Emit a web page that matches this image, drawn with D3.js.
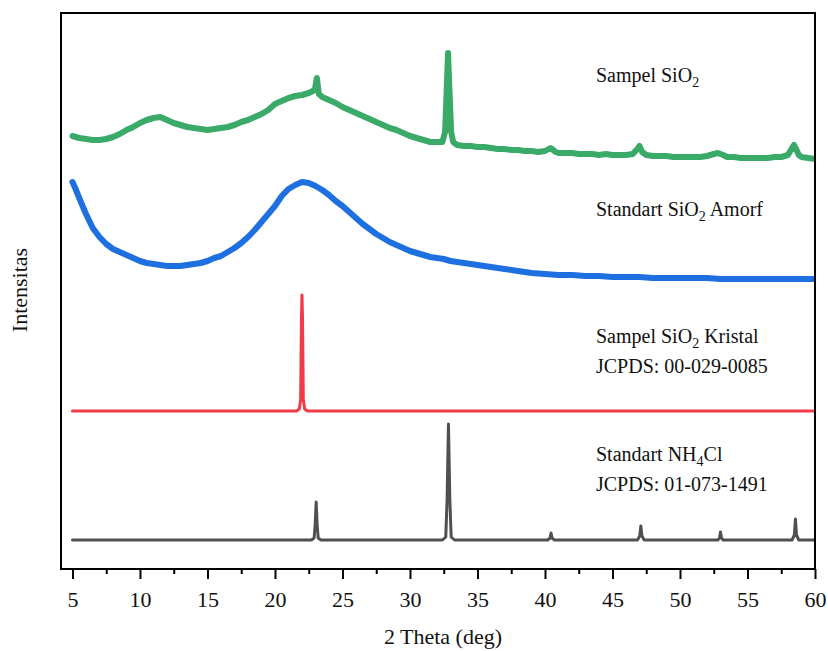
<!DOCTYPE html>
<html>
<head>
<meta charset="utf-8">
<script src="https://cdn.jsdelivr.net/npm/d3@7"></script>
<style>
  body { margin: 0; background: #fff; }
  #chart text { font-family: "Liberation Serif", "Times New Roman", serif; fill: #111; }
</style>
</head>
<body>
<div id="chart"></div>
<script>
// XRD pattern chart - stacked diffractograms
(function () {
  ///////////////////////////////////////////////////////////// ! Data
  // 2 theta (deg) and intensity (a.u., already offset for stacking)
  const sampelTheta = [5, 5.5, 6, 6.5, 7, 7.5, 8, 8.5, 9, 9.5, 10, 10.5, 11, 11.5, 12, 12.5, 13, 13.5, 14, 14.5, 15, 15.5, 16, 16.5, 17, 17.5, 18, 18.5, 19, 19.5, 20, 20.5, 21, 21.5, 22, 22.5, 22.95, 23.1, 23.25, 23.5, 24, 24.5, 25, 25.5, 26, 26.5, 27, 27.5, 28, 28.5, 29, 29.5, 30, 30.5, 31, 31.5, 32, 32.4, 32.6, 32.72, 32.82, 32.92, 33.05, 33.2, 33.5, 34, 34.5, 35, 35.5, 36, 36.5, 37, 37.5, 38, 38.5, 39, 39.5, 40, 40.4, 40.8, 41, 41.5, 42, 42.5, 43, 43.5, 44, 44.5, 45, 45.5, 46, 46.5, 46.9, 47, 47.2, 47.5, 48, 48.5, 49, 49.5, 50, 50.5, 51, 51.5, 52, 52.5, 52.8, 53.2, 53.5, 54, 54.5, 55, 55.5, 56, 56.5, 57, 57.5, 58, 58.3, 58.45, 58.6, 58.8, 59, 59.5, 60];
  const sampelInt = [433, 431, 430, 429, 429, 430, 432, 435, 439, 442, 446, 449, 451, 452, 449, 446, 444, 442, 441, 440, 439, 440, 441, 442, 444, 447, 449, 452, 455, 459, 465, 468, 471, 473, 474, 476, 479, 491, 475, 472, 469, 466, 462, 459, 456, 453, 450, 447, 444, 441, 439, 436, 433, 431, 429, 427, 427, 427, 437, 480, 516, 480, 437, 427, 424, 423, 423, 422, 422, 421, 420, 420, 419, 419, 418, 418, 417, 418, 421, 417, 416, 416, 416, 415, 415, 415, 414, 415, 414, 414, 414, 415, 421, 423, 417, 414, 413, 413, 413, 412, 412, 412, 412, 412, 413, 415, 416, 414, 412, 412, 411, 411, 411, 411, 411, 412, 412, 414, 421, 424, 420, 414, 412, 411, 410];

  const amorfTheta = [5, 5.2, 5.5, 6, 6.5, 7, 7.5, 8, 8.5, 9, 9.5, 10, 10.5, 11, 11.5, 12, 12.5, 13, 13.5, 14, 14.5, 15, 15.5, 16, 16.5, 17, 17.5, 18, 18.5, 19, 19.5, 20, 20.5, 21, 21.5, 22, 22.5, 23, 23.5, 24, 24.5, 25, 25.5, 26, 26.5, 27, 27.5, 28, 28.5, 29, 29.5, 30, 30.5, 31, 31.5, 32, 32.5, 33, 33.5, 34, 35, 36, 37, 38, 39, 40, 41, 42, 43, 44, 45, 46, 47, 48, 49, 50, 51, 52, 53, 54, 55, 56, 57, 58, 59, 60];
  const amorfInt = [387, 381, 371, 355, 341, 332, 325, 320, 317, 314, 311, 308, 306, 305, 304, 303, 303, 303, 304, 305, 306, 308, 311, 313, 317, 321, 326, 332, 339, 347, 355, 363, 373, 380, 384, 387, 386, 383, 379, 374, 368, 363, 357, 351, 345, 340, 335, 331, 327, 324, 321, 318, 316, 314, 312, 311, 310, 308, 307, 306, 304, 302, 300, 298, 296, 295, 294, 294, 293, 293, 292, 292, 292, 291, 291, 291, 291, 291, 290, 290, 290, 290, 290, 290, 290, 290];

  const kristalTheta = [5, 21.6, 21.8, 21.9, 21.96, 22, 22.04, 22.1, 22.2, 22.4, 60];
  const kristalInt = [158, 158, 160, 169, 250, 274, 250, 169, 160, 158, 158];

  const nh4clTheta = [5, 22.7, 22.9, 22.98, 23.05, 23.12, 23.2, 23.4, 32.4, 32.65, 32.75, 32.85, 32.95, 33.05, 33.3, 40.2, 40.38, 40.45, 40.52, 40.7, 46.85, 47.02, 47.1, 47.18, 47.35, 52.8, 52.93, 53, 53.07, 53.2, 58.3, 58.47, 58.55, 58.63, 58.8, 60];
  const nh4clInt = [29, 29, 31, 45, 67, 45, 31, 29, 29, 32, 70, 145, 70, 32, 29, 29, 31, 36, 31, 29, 29, 33, 43, 33, 29, 29, 31, 37, 31, 29, 29, 34, 50, 34, 29, 29];

  const xTicks = [5, 10, 15, 20, 25, 30, 35, 40, 45, 50, 55, 60];
  const xMinorTicks = [7.5, 12.5, 17.5, 22.5, 27.5, 32.5, 37.5, 42.5, 47.5, 52.5, 57.5];

  const series = [
    { name: "nh4cl", theta: nh4clTheta, values: nh4clInt, color: "#505050", width: 3 },
    { name: "kristal", theta: kristalTheta, values: kristalInt, color: "#f03c46", width: 3 },
    { name: "amorf", theta: amorfTheta, values: amorfInt, color: "#1e6fe0", width: 6 },
    { name: "sampel", theta: sampelTheta, values: sampelInt, color: "#3aaa68", width: 6 },
  ];

  ///////////////////////////////////////////////////////////// ! Setup
  const fullWidth = 828;
  const fullHeight = 651;
  const margin = { top: 13, right: 13, bottom: 82, left: 61 };
  const width = fullWidth - margin.left - margin.right;
  const height = fullHeight - margin.top - margin.bottom;

  const svg = d3
    .select("#chart")
    .append("svg")
    .attr("width", fullWidth)
    .attr("height", fullHeight)
    .style("display", "block");

  const g = svg
    .append("g")
    .attr("transform", `translate(${margin.left},${margin.top})`);

  ///////////////////////////////////////////////////////////// ! Scales
  const xScale = d3.scaleLinear().domain([4.15, 60]).range([0, width]);
  const yScale = d3.scaleLinear().domain([0, 556]).range([height, 0]);

  ///////////////////////////////////////////////////////////// ! Lines
  const line = d3
    .line()
    .x((d) => xScale(d[0]))
    .y((d) => yScale(d[1]));

  const clip = g.append("clipPath").attr("id", "plot-clip");
  clip.append("rect").attr("width", width).attr("height", height);

  series.forEach((s) => {
    g.append("path")
      .datum(s.theta.map((t, i) => [t, s.values[i]]))
      .attr("clip-path", "url(#plot-clip)")
      .attr("fill", "none")
      .attr("stroke", s.color)
      .attr("stroke-width", s.width)
      .attr("stroke-linejoin", "round")
      .attr("stroke-linecap", "round")
      .attr("d", line);
  });

  ///////////////////////////////////////////////////////////// ! Axes
  // Minor ticks
  g.append("g")
    .attr("transform", `translate(0,${height})`)
    .call(d3.axisBottom(xScale).tickValues(xMinorTicks).tickSize(5).tickFormat(""))
    .call((ax) => ax.select(".domain").remove())
    .call((ax) => ax.selectAll("line").attr("stroke", "#000").attr("stroke-width", 2));

  // Major ticks
  g.append("g")
    .attr("transform", `translate(0,${height})`)
    .call(d3.axisBottom(xScale).tickValues(xTicks).tickSize(10).tickFormat(d3.format("d")))
    .call((ax) => ax.select(".domain").remove())
    .call((ax) => ax.selectAll("line").attr("stroke", "#000").attr("stroke-width", 2))
    .call((ax) =>
      ax
        .selectAll("text")
        .attr("y", 22)
        .attr("dy", "0.71em")
        .style("font-size", "22px")
        .style("fill", "#111")
    );

  // Frame
  g.append("rect")
    .attr("width", width)
    .attr("height", height)
    .attr("fill", "none")
    .attr("stroke", "#000")
    .attr("stroke-width", 2);

  // Axis labels
  svg
    .append("text")
    .attr("x", 443)
    .attr("y", 644)
    .style("text-anchor", "middle")
    .style("font-size", "22px")
    .text("2 Theta (deg)");

  svg
    .append("text")
    .attr("transform", "translate(27,290) rotate(-90)")
    .style("text-anchor", "middle")
    .style("font-size", "22px")
    .text("Intensitas");

  ///////////////////////////////////////////////////////////// ! Annotations
  const labelX = 596;

  function addLabel(y, parts) {
    const t = svg
      .append("text")
      .attr("x", labelX)
      .attr("y", y)
      .style("font-size", "20px");
    parts.forEach((p) => {
      if (p.sub) {
        t.append("tspan").attr("dy", 5).style("font-size", "14px").text(p.text);
      } else {
        t.append("tspan").attr("dy", p.after ? -5 : 0).text(p.text);
      }
    });
  }

  addLabel(82, [{ text: "Sampel SiO" }, { text: "2", sub: true }]);
  addLabel(216, [{ text: "Standart SiO" }, { text: "2", sub: true }, { text: " Amorf", after: true }]);
  addLabel(343, [{ text: "Sampel SiO" }, { text: "2", sub: true }, { text: " Kristal", after: true }]);
  addLabel(373, [{ text: "JCPDS: 00-029-0085" }]);
  addLabel(461, [{ text: "Standart NH" }, { text: "4", sub: true }, { text: "Cl", after: true }]);
  addLabel(491, [{ text: "JCPDS: 01-073-1491" }]);
})();
</script>
</body>
</html>
